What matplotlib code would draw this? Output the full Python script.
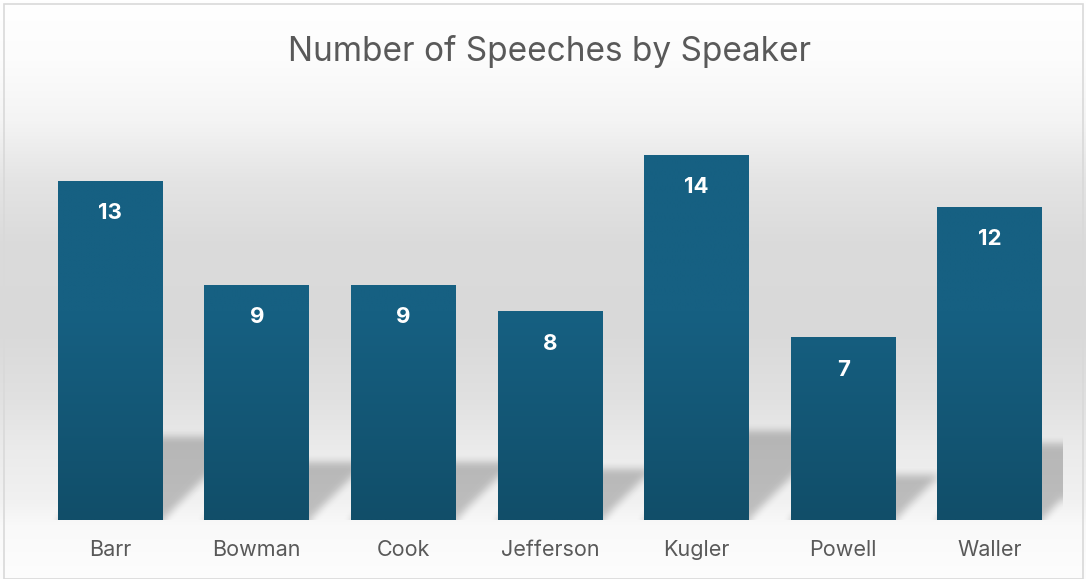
import numpy as np
import matplotlib.pyplot as plt
from matplotlib.colors import to_rgb
from matplotlib.patches import Rectangle

# ============================================================
# DATA
# ============================================================
speakers = ['Barr', 'Bowman', 'Cook', 'Jefferson', 'Kugler', 'Powell', 'Waller']
speeches = [13, 9, 9, 8, 14, 7, 12]

TITLE = 'Number of Speeches by Speaker'
FONT = ['Inter', 'DejaVu Sans']
TXT_COLOR = '#595959'

W, H = 1086, 579
BAR_W = 0.716

plt.rcParams['font.family'] = FONT

fig = plt.figure(figsize=(W / 100, H / 100), dpi=100)

# ------------------------------------------------------------
# background gradient (whole figure)
# ------------------------------------------------------------
bg_ax = fig.add_axes([0, 0, 1, 1], zorder=-10)
stops_px = [0, 60, 120, 180, 240, 330, 400, 450, 500, 525, 579]
stops_gray = [255, 252, 244, 228, 219, 217, 225, 235, 241, 249, 253]
gray = np.interp(np.arange(H), stops_px, stops_gray) / 255.0
bg_ax.imshow(np.dstack([gray[:, None]] * 3), aspect='auto', extent=[0, 1, 0, 1])
bg_ax.set_axis_off()

# border of the chart area
fig.add_artist(Rectangle((4 / W, 0 / H), 1079 / W, 575 / H, transform=fig.transFigure,
                         fill=False, edgecolor='#d9d9d9', linewidth=1.2))

# ------------------------------------------------------------
# main axes
# ------------------------------------------------------------
ax = fig.add_axes([37 / W, 59 / H, 1026 / W, 417 / H])
ax.patch.set_alpha(0)
for sp in ax.spines.values():
    sp.set_visible(False)
ax.set_yticks([])
ax.set_xticks(range(len(speakers)))
ax.set_xticklabels(speakers, fontsize=15.5, color=TXT_COLOR)
ax.tick_params(axis='x', length=0, pad=14.5)

# --- perspective shadows behind the bars ---
nx, ny = 1030, 160
ys_max = 6.0
xs = np.linspace(-0.5, len(speakers) - 0.5, nx)
ys = np.linspace(0, ys_max, ny)
X, Y = np.meshgrid(xs, ys)
mask = np.zeros_like(X)
px_y = 417 / 16
px_x = 1026 / len(speakers)
for i, v in enumerate(speeches):
    h = 0.245 * v
    s = h * px_y / px_x
    frac = Y / h
    inside = (Y <= h) & (X >= i - BAR_W / 2 + s * frac) & (X <= i + BAR_W / 2 + s * frac)
    mask = np.maximum(mask, inside.astype(float))


def box_blur(a, k, axis):
    pad = k // 2
    widths = [(0, 0), (0, 0)]
    widths[axis] = (pad, pad)
    ap = np.pad(a, widths, mode='edge')
    c = np.cumsum(ap, axis=axis)
    c = np.insert(c, 0, 0, axis=axis)
    if axis == 0:
        return (c[k:, :] - c[:-k, :]) / k
    return (c[:, k:] - c[:, :-k]) / k


for _ in range(2):
    mask = box_blur(mask, 9, 0)
    mask = box_blur(mask, 9, 1)

shadow = np.zeros((ny, nx, 4))
shadow[..., 3] = mask * 0.22
ax.imshow(shadow, origin='lower', extent=[xs[0], xs[-1], 0, ys_max],
          aspect='auto', zorder=1, interpolation='bilinear')

# --- bars with vertical gradient ---
bot_c = np.array(to_rgb('#114e69'))
top_c = np.array(to_rgb('#166082'))
bars = ax.bar(range(len(speakers)), speeches, width=BAR_W, color='#145a79', zorder=2)
for b, v in zip(bars, speeches):
    yy = np.linspace(0, v, 200)
    t = np.clip(yy / 8.0, 0, 1)[:, None]
    col = bot_c * (1 - t) + top_c * t
    x0 = b.get_x()
    ax.imshow(col[:, None, :], origin='lower', extent=[x0, x0 + b.get_width(), 0, v],
              aspect='auto', zorder=3, interpolation='bilinear')
    ax.annotate(str(v), (b.get_x() + b.get_width() / 2, v), xytext=(0, -27.4),
                textcoords='offset points', ha='center', va='baseline',
                color='white', fontsize=16, fontweight='bold', zorder=4)

ax.set_xlim(-0.5, len(speakers) - 0.5)
ax.set_ylim(0, 16)

fig.text(0.5065, 1 - 60.5 / H, TITLE, ha='center', va='baseline',
         fontsize=24, color=TXT_COLOR)

fig.savefig('out.png', dpi=100)
